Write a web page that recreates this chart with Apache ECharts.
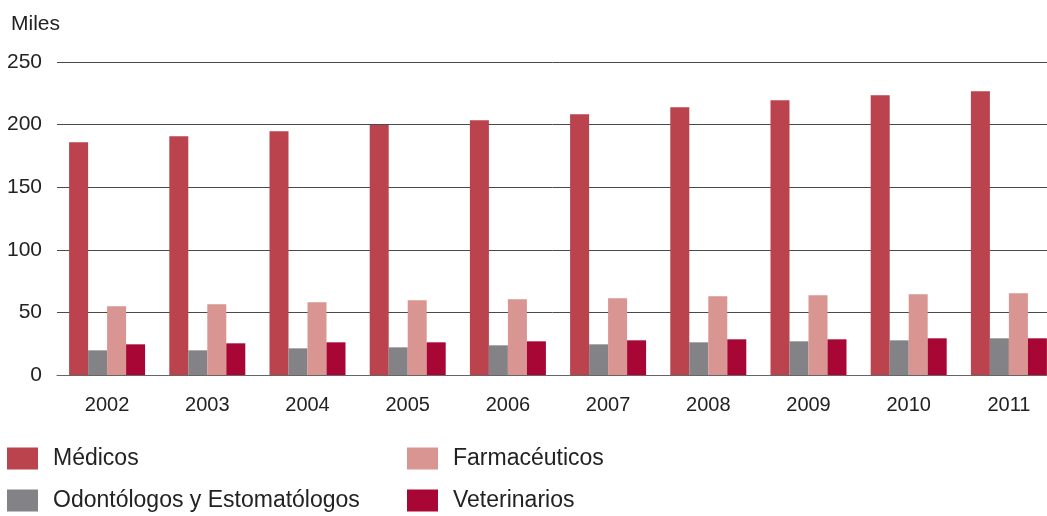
<!DOCTYPE html>
<html>
<head>
<meta charset="utf-8">
<script src="https://cdn.jsdelivr.net/npm/echarts@6/dist/echarts.min.js"></script>
<style>
html,body{margin:0;padding:0;background:#fff;}
#chart{width:1047px;height:516px;}
</style>
</head>
<body>
<div id="chart"></div>
<script>
var categories = ['2002','2003','2004','2005','2006','2007','2008','2009','2010','2011'];
var medicos = [186, 190.6, 194.6, 199.7, 203.4, 208.2, 213.8, 219.4, 223.4, 226.6];
var odontologos = [19.7, 19.7, 21.3, 22.1, 23.7, 24.5, 26.1, 26.9, 27.7, 29.3];
var farmaceuticos = [54.9, 56.5, 58.1, 59.7, 60.5, 61.3, 62.9, 63.7, 64.5, 65.3];
var veterinarios = [24.5, 25.3, 26.1, 26.1, 26.9, 27.7, 28.5, 28.5, 29.3, 29.3];
var yTicks = [0, 50, 100, 150, 200, 250];

var FONT = '"Liberation Sans", Arial, sans-serif';
var TXT = '#222222';

var chart = echarts.init(document.getElementById('chart'));
function bar(name, data, color) {
  return {
    name: name, type: 'bar', data: data, barWidth: 19, barGap: '0%',
    itemStyle: { color: color }, emphasis: { disabled: true }
  };
}
function leg(name, left, top) {
  return {
    data: [name], left: left, top: top, itemWidth: 31, itemHeight: 22,
    icon: 'rect', selectedMode: false, padding: 0,
    textStyle: { fontFamily: FONT, fontSize: 23, color: TXT, padding: [2, 0, 0, 10] }
  };
}
chart.setOption({
  animation: false,
  title: {
    text: 'Miles', left: 11, top: 14, padding: 0,
    textStyle: { fontFamily: FONT, fontSize: 21, fontWeight: 'normal', color: TXT }
  },
  grid: { left: 57, top: 62, width: 1002, height: 313, containLabel: false, outerBoundsMode: 'none' },
  xAxis: {
    type: 'category', data: categories,
    axisLine: { show: true, lineStyle: { color: '#666', width: 1 } },
    axisTick: { show: false },
    axisLabel: { fontFamily: FONT, fontSize: 20, color: TXT, margin: 20 }
  },
  yAxis: {
    type: 'value', min: yTicks[0], max: yTicks[yTicks.length - 1], interval: 50,
    axisLine: { show: false }, axisTick: { show: false },
    axisLabel: { fontFamily: FONT, fontSize: 21, color: TXT, margin: 15 },
    splitLine: { lineStyle: { color: '#4a4a4a', width: 1 } }
  },
  legend: [
    leg('Médicos', 7, 447),
    leg('Odontólogos y Estomatólogos', 7, 489),
    leg('Farmacéuticos', 407, 447),
    leg('Veterinarios', 407, 489)
  ],
  series: [
    bar('Médicos', medicos, '#BA434D'),
    bar('Odontólogos y Estomatólogos', odontologos, '#838387'),
    bar('Farmacéuticos', farmaceuticos, '#D99591'),
    bar('Veterinarios', veterinarios, '#A80634')
  ]
});
</script>
</body>
</html>
